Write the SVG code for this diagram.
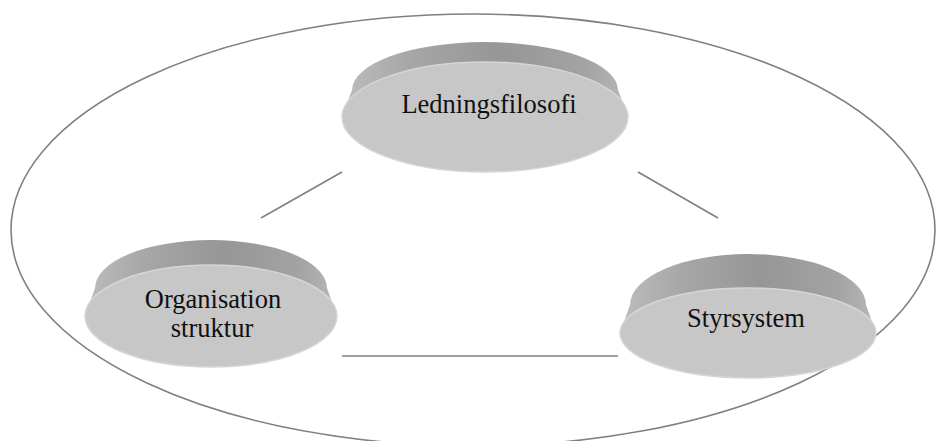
<svg xmlns="http://www.w3.org/2000/svg" width="936" height="441" viewBox="0 0 936 441">
<defs>
<linearGradient id="rim" x1="0" y1="0" x2="1" y2="0">
<stop offset="0" stop-color="#bdbdbd"/>
<stop offset="0.25" stop-color="#a6a6a6"/>
<stop offset="0.55" stop-color="#969696"/>
<stop offset="0.85" stop-color="#a3a3a3"/>
<stop offset="1" stop-color="#b8b8b8"/>
</linearGradient>
<style>
.rim{fill:url(#rim);}
.face{fill:#c7c7c7;stroke:#d6d6d6;stroke-width:1.5;}
.lbl{font-family:"Liberation Serif","Times New Roman",serif;font-size:26.5px;fill:#111;text-anchor:middle;}
.conn{stroke:#808080;stroke-width:1.6;fill:none;}
</style>
</defs>
<rect width="936" height="441" fill="#fff"/>
<ellipse cx="473" cy="230" rx="462" ry="216" fill="none" stroke="#808080" stroke-width="1.6"/>
<g id="connectors">
<line class="conn" x1="261" y1="218" x2="342" y2="172"/>
<line class="conn" x1="638" y1="172" x2="718" y2="218"/>
<line class="conn" x1="342" y1="356" x2="618" y2="356"/>
</g>
<g id="node-ledningsfilosofi">
<path class="rim" d="M352,90 A133,48 0 0 1 618,90 L628,117 A143,55 0 0 1 342,117 Z"/>
<ellipse class="face" cx="485" cy="117" rx="143" ry="55"/>
<text class="lbl" x="489" y="113">Ledningsfilosofi</text>
</g>
<g id="node-organisation">
<path class="rim" d="M95,288 A116,48 0 0 1 327,288 L337,316 A126,51 0 0 1 85,316 Z"/>
<ellipse class="face" cx="211" cy="316" rx="126" ry="51"/>
<text class="lbl" x="213" y="308">Organisation</text>
<text class="lbl" x="212" y="337">struktur</text>
</g>
<g id="node-styrsystem">
<path class="rim" d="M630,305 A118,51 0 0 1 866,305 L876,333 A128,45 0 0 1 620,333 Z"/>
<ellipse class="face" cx="748" cy="333" rx="128" ry="45"/>
<text class="lbl" x="746" y="327">Styrsystem</text>
</g>
</svg>
